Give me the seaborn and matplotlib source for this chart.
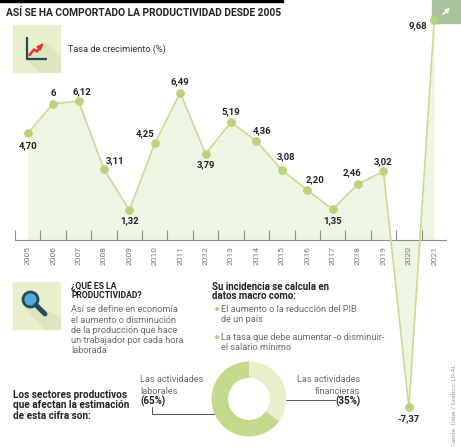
import numpy as np
import pandas as pd
import seaborn as sns
import matplotlib.pyplot as plt
from matplotlib.patches import Rectangle, Polygon, Circle

years = list(range(2005, 2022))
growth = [4.70, 6.00, 6.12, 3.11, 1.32, 4.25, 6.49, 3.79, 5.19, 4.36, 3.08, 2.20, 1.35, 2.46, 3.02, -7.37, 9.68]
value_labels = ["4,70", "6", "6,12", "3,11", "1,32", "4,25", "6,49", "3,79", "5,19", "4,36",
                "3,08", "2,20", "1,35", "2,46", "3,02", "-7,37", "9,68"]
sectors = ["Las actividades financieras", "Las actividades laborales"]
shares = [35, 65]

# label offsets in pixels (dx, dy up)
offsets = [(0, -12), (0, 10), (3, 9), (11, 9), (0, -11), (-10, 10), (0, 11), (0, -11), (0, 10),
           (6, 10), (4, 13), (8, 10), (0, -11), (-6, 11), (0, 10), (0, -11), (-16, -6)]

sns.set_style("white")
plt.rcParams['font.family'] = ['Roboto', 'DejaVu Sans']

LINE = '#c6dc93'
DOT = '#b7d47d'
FILL = '#eff5e3'
DARK = '#222222'
GRAY = '#6b6b6b'

fig = plt.figure(figsize=(4.61, 4.47), dpi=100)

# background / annotation layer in pixel coordinates
bg = fig.add_axes([0, 0, 1, 1])
bg.set_xlim(0, 461)
bg.set_ylim(447, 0)
bg.axis('off')

# chart layer
ax = fig.add_axes([15 / 461, 0, 432 / 461, 1])
ax.patch.set_alpha(0)
df = pd.DataFrame({'year': years, 'growth': growth})
ax.fill_between(years, growth, 0, color=FILL, lw=0, zorder=1)
sns.lineplot(data=df, x='year', y='growth', ax=ax, color=LINE, lw=1.2,
             marker='o', markersize=5.5, markerfacecolor=DOT, markeredgecolor=DOT, zorder=3)
ax.set_xlim(2004.5, 2021.5)
ax.set_ylim(-9.12, 10.57)
ax.axhline(0, color='#8c8c8c', lw=0.8, zorder=2)
ax.vlines(np.arange(2004.5, 2022, 1), 0, 0.44, color='#8c8c8c', lw=0.8, zorder=2)
for yr in years:
    ax.text(yr, -0.68, str(yr), rotation=90, ha='center', va='center', fontsize=6, color='#777777')
for yr, v, lab, (dx, dy) in zip(years, growth, value_labels, offsets):
    ax.annotate(lab, (yr, v), xytext=(dx, dy), textcoords='offset pixels',
                ha='center', va='center', fontsize=6.8, fontweight='bold', color=DARK, zorder=4)
ax.axis('off')

# header
bg.add_patch(Rectangle((0, 0), 283, 2, color='black'))
bg.text(6, 12.5, "ASÍ SE HA COMPORTADO LA PRODUCTIVIDAD DESDE 2005", fontsize=7.35,
        fontweight='bold', color=DARK, va='center', ha='left')
bg.add_patch(Rectangle((432, 0), 29, 23, color='#a9c49c', zorder=5))
bg.annotate('', xy=(452, 6), xytext=(441, 16),
            arrowprops=dict(arrowstyle='-|>', color='white', lw=1.2, mutation_scale=6), zorder=6)

# growth icon
bg.add_patch(Rectangle((13, 25), 47, 47, color='#e9efcd'))
bg.add_patch(Polygon([(27, 59), (45, 43), (60, 57), (60, 72), (40, 72)], color='#dde4c0'))
bg.plot([26.5, 26.5, 47], [37, 59, 59], color='#1f4e5a', lw=1.6, solid_capstyle='butt')
bg.plot([29.5, 34, 37, 41], [55, 49.5, 51.5, 46], color='#e8322b', lw=1.8)
bg.annotate('', xy=(45, 41.5), xytext=(40, 47),
            arrowprops=dict(arrowstyle='-|>', color='#e8322b', lw=1.5, mutation_scale=7))
bg.text(68, 49, "Tasa de crecimiento (%)", fontsize=6.6, color='#333333', va='center')

# magnifier icon
bg.add_patch(Rectangle((13, 282), 47, 47, color='#e9efcd'))
bg.add_patch(Polygon([(38, 306), (25, 308), (46, 329), (60, 329), (60, 318)], color='#dde4c0'))
bg.plot([36, 45], [305, 314], color='#1f4e5a', lw=3.5, solid_capstyle='round')
bg.add_patch(Circle((30.5, 299.5), 7.5, facecolor='#5ba8d8', edgecolor='#1f4e5a', lw=2))

bg.text(71, 286.5, "¿QUÉ ES LA", fontsize=6.2, fontweight='bold', color=DARK, va='center')
bg.text(71, 295.5, "PRODUCTIVIDAD?", fontsize=6.2, fontweight='bold', color=DARK, va='center')
body = ["Así se define en economía", "el aumento o disminución", "de la producción que hace",
        "un trabajador por cada hora", "laborada"]
for i, line in enumerate(body):
    bg.text(71, 310 + i * 10.2, line, fontsize=6.6, color=GRAY, va='center')

bg.text(212, 286.5, "Su incidencia se calcula en", fontsize=6.9, fontweight='bold', color=DARK, va='center')
bg.text(212, 296, "datos macro como:", fontsize=6.9, fontweight='bold', color=DARK, va='center')
bullets = [(309, ["El aumento o la reducción del PIB", "de un país"]),
           (337, ["La tasa que debe aumentar -o disminuir-", "el salario mínimo"])]
for y0, lines in bullets:
    bg.add_patch(Circle((217, y0), 1.3, color=DOT))
    for i, line in enumerate(lines):
        bg.text(221, y0 + i * 10.2, line, fontsize=6.6, color=GRAY, va='center')

for i, line in enumerate(["Los sectores productivos", "que afectan la estimación", "de esta cifra son:"]):
    bg.text(13, 395 + i * 10.4, line, fontsize=7.2, fontweight='bold', color=DARK, va='center')

# donut
pie_ax = fig.add_axes([(249 - 37.5) / 461, (447 - 399 - 37.5) / 447, 75 / 461, 75 / 447])
pie_ax.pie(shares, colors=['#e8efcb', '#c3da8c'], startangle=90, counterclock=False,
           radius=1, wedgeprops=dict(width=0.44, linewidth=0))
pie_ax.set_xlim(-1, 1)
pie_ax.set_ylim(-1, 1)
pie_ax.set_aspect('auto')

bg.text(140, 380, "Las actividades", fontsize=6.6, color=GRAY, va='center')
bg.text(140, 391, "laborales", fontsize=6.6, color=GRAY, va='center')
bg.text(140, 401.5, "(65%)", fontsize=7, fontweight='bold', color=DARK, va='center')
bg.plot([152, 152, 225.5], [406.5, 414, 414], color='#555555', lw=0.7)
bg.plot(225.5, 414, 'o', color='black', ms=3)

bg.text(360, 380, "Las actividades", fontsize=6.6, color=GRAY, va='center', ha='right')
bg.text(360, 391, "financieras", fontsize=6.6, color=GRAY, va='center', ha='right')
bg.text(360, 401.5, "(35%)", fontsize=7, fontweight='bold', color=DARK, va='center', ha='right')
bg.plot([280, 335], [400, 400], color='#555555', lw=0.7)
bg.plot(280, 400, 'o', color='black', ms=3)

bg.text(455, 405, "Fuente: Dane / Gráfico: LR-AL", rotation=90, fontsize=4.6, color='#999999',
        ha='center', va='center')

fig.savefig("out.png", dpi=100)
